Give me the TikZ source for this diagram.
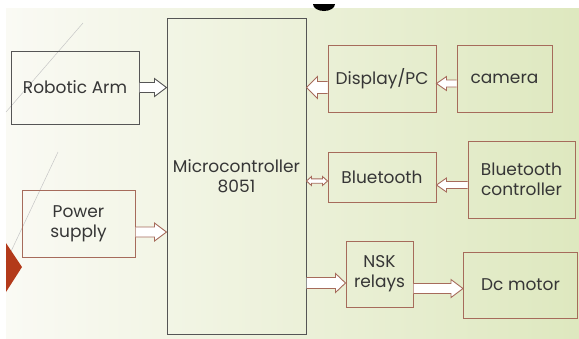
\documentclass[tikz,border=0pt]{standalone}
\usepackage{fontspec}
\setmainfont{Poppins}
\usetikzlibrary{calc}
\definecolor{boxbrown}{HTML}{A66B5B}
\definecolor{boxgray}{HTML}{555555}
\definecolor{txtgray}{HTML}{363636}
\definecolor{bgleft}{HTML}{FAFAF4}
\definecolor{bgright}{HTML}{DEE8BF}
\definecolor{slidered}{HTML}{B33A1A}
\tikzset{
  blockbox/.style={draw=boxbrown, line width=1pt, text=txtgray, align=center, inner sep=2pt},
  graybox/.style={blockbox, draw=boxgray},
  % hollow block arrow: half shaft, half head, head length
  blockarrow/.style n args={3}{draw=boxbrown, fill=white, line width=0.9pt, line join=miter, to path={
    let \p1=(\tikztostart), \p2=(\tikztotarget), \n1={sign(\x2-\x1)} in
    (\x1,{\y1+#1}) -- ({\x2-(\n1)*#3},{\y1+#1}) -- ({\x2-(\n1)*#3},{\y1+#2}) -- (\x2,\y1)
    -- ({\x2-(\n1)*#3},{\y1-#2}) -- ({\x2-(\n1)*#3},{\y1-#1}) -- (\x1,{\y1-#1}) \tikztonodes}},
  dblarrow/.style n args={3}{draw=boxbrown, fill=white, line width=0.9pt, line join=miter, to path={
    let \p1=(\tikztostart), \p2=(\tikztotarget), \n1={sign(\x2-\x1)} in
    (\x1,\y1) -- ({\x1+(\n1)*#3},{\y1+#2}) -- ({\x1+(\n1)*#3},{\y1+#1}) -- ({\x2-(\n1)*#3},{\y1+#1})
    -- ({\x2-(\n1)*#3},{\y1+#2}) -- (\x2,\y1) -- ({\x2-(\n1)*#3},{\y1-#2}) -- ({\x2-(\n1)*#3},{\y1-#1})
    -- ({\x1+(\n1)*#3},{\y1-#1}) -- ({\x1+(\n1)*#3},{\y1-#2}) -- cycle \tikztonodes}},
  bigarrow/.style={blockarrow={5pt}{9pt}{12pt}},
  smallarrow/.style={blockarrow={3.5pt}{7pt}{10pt}}
}
\begin{document}
\begin{tikzpicture}[x=1pt, y=-1pt, font=\fontsize{17}{20}\selectfont]
  \useasboundingbox (0,0) rectangle (579,338);
  % slide background
  \fill[white] (0,0) rectangle (579,338);
  \shade[left color=bgleft, right color=bgright] (6,8) rectangle (579,338);
  \draw[gray!45, line width=0.5pt] (83,23) -- (6,112);
  \draw[gray!45, line width=0.5pt] (58,152) -- (6,262);
  \fill[slidered] (6,243) -- (22,267) -- (6,292) -- cycle;
  \fill[black] (335,4) arc[start angle=0, end angle=180, x radius=11, y radius=7] -- cycle;
  % blocks
  \node[graybox, minimum width=128pt, minimum height=73pt] (arm) at (75,87.5) {Robotic Arm};
  \node[graybox, minimum width=139pt, minimum height=316pt] (mcu) at (236.5,176) {Microcontroller\\8051};
  \node[blockbox, minimum width=113pt, minimum height=67pt] (power) at (78.5,223.5) {Power\\supply};
  \node[blockbox, minimum width=108pt, minimum height=67pt] (disp) at (382,78.5) {Display/PC};
  \node[blockbox, minimum width=95pt, minimum height=67pt] (cam) at (504.5,78.5) {camera};
  \node[blockbox, minimum width=108pt, minimum height=50pt] (bt) at (382,177) {Bluetooth};
  \node[blockbox, minimum width=107pt, minimum height=77pt] (btc) at (521.5,179.5) {Bluetooth\\controller};
  \node[blockbox, minimum width=67pt, minimum height=66pt] (nsk) at (379.5,274) {NSK\\relays};
  \node[blockbox, minimum width=114pt, minimum height=66pt] (dcm) at (520.5,285) {Dc motor};
  % links
  \draw[bigarrow, draw=boxgray] (arm.east) to (arm.east -| mcu.west);
  \draw[bigarrow] ([yshift=-8.5pt]power.east) to ([yshift=-8.5pt]power.east -| mcu.west);
  \draw[blockarrow={6pt}{11pt}{11pt}] ([yshift=-9pt]disp.west) to ([yshift=-9pt]disp.west -| mcu.east);
  \draw[smallarrow] ([yshift=-5pt]cam.west) to ([yshift=-5pt]cam.west -| disp.east);
  \draw[dblarrow={2.2pt}{4.5pt}{5pt}] ([yshift=-4pt]bt.west) to ([yshift=-4pt]bt.west -| mcu.east);
  \draw[smallarrow] ([yshift=-5.5pt]btc.west) to ([yshift=-5.5pt]btc.west -| bt.east);
  \draw[blockarrow={5.5pt}{9.5pt}{10pt}] ([yshift=-9pt]nsk.west -| mcu.east) to ([yshift=-9pt]nsk.west);
  \draw[bigarrow] ([yshift=-14.5pt]nsk.east) to ([yshift=-14.5pt]nsk.east -| dcm.west);
\end{tikzpicture}
\end{document}
